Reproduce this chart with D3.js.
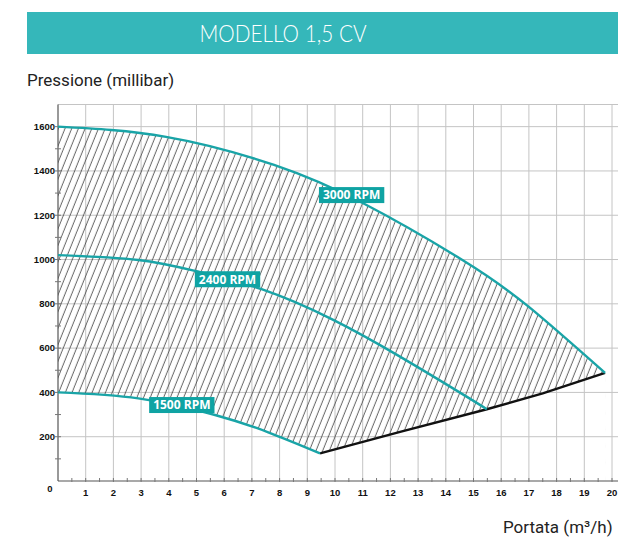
<!DOCTYPE html>
<html>
<head>
<meta charset="utf-8">
<script src="https://cdn.jsdelivr.net/npm/d3@7"></script>
<style>
  html, body { margin: 0; padding: 0; background: #fff; }
  svg { display: block; }
</style>
</head>
<body>
<svg id="chart" width="618" height="538"></svg>
<script>
// ---- data ----
const title = "MODELLO 1,5 CV";
const yTitle = "Pressione (millibar)";
const xTitle = "Portata (m³/h)";

const xTickValues = [1,2,3,4,5,6,7,8,9,10,11,12,13,14,15,16,17,18,19,20];
const yTickValues = [200,400,600,800,1000,1200,1400,1600];

const rpm3000X = [0, 3.9, 7.8, 11.0, 14.6, 17.0, 19.75];
const rpm3000Y = [1600, 1554, 1427, 1255, 998, 786, 488];

const rpm2400X = [0, 2.9, 5.0, 7.35, 9.9, 12.3, 14.75, 15.48];
const rpm2400Y = [1020, 998, 947, 866, 730, 565, 381, 324];

const rpm1500X = [0, 2.9, 5.67, 7.59, 9.46];
const rpm1500Y = [400, 373, 298, 220, 125];

const limitX = [9.46, 12.35, 15.48, 17.5, 19.75];
const limitY = [125, 222, 324, 396, 488];

const curveLabels = ["3000 RPM", "2400 RPM", "1500 RPM"];
const labelX = [10.6, 6.12, 4.47];
const labelY = [1291, 911, 343];

// ---- layout ----
const svg = d3.select("#chart");
const x = d3.scaleLinear().domain([0, 20]).range([58, 612]);
const y = d3.scaleLinear().domain([0, 1700]).range([481, 104.5]);

const teal = "#19a4a7";
const labelTeal = "#0fa3a3";

const zip = (xs, ys) => xs.map((v, i) => [v, ys[i]]);
const s3000 = zip(rpm3000X, rpm3000Y);
const s2400 = zip(rpm2400X, rpm2400Y);
const s1500 = zip(rpm1500X, rpm1500Y);
const sLimit = zip(limitX, limitY);

// title bar
svg.append("rect").attr("x", 27).attr("y", 12).attr("width", 640).attr("height", 42).attr("fill", "#35b7ba");
svg.append("text").attr("x", 283).attr("y", 41.5).attr("text-anchor", "middle")
  .attr("font-family", "Lato, 'Open Sans', sans-serif").attr("font-weight", 300)
  .attr("font-size", 23).attr("fill", "#fff")
  .attr("textLength", 167).attr("lengthAdjust", "spacingAndGlyphs")
  .text(title);

// axis titles
svg.append("text").attr("x", 27).attr("y", 86).attr("font-family", "Roboto, sans-serif")
  .attr("font-size", 17).attr("fill", "#222").text(yTitle);
svg.append("text").attr("x", 503).attr("y", 533).attr("font-family", "Roboto, sans-serif")
  .attr("font-size", 17).attr("fill", "#222").text(xTitle);

// defs: hatch + mask
const defs = svg.append("defs");
const pat = defs.append("pattern").attr("id", "hatch").attr("patternUnits", "userSpaceOnUse")
  .attr("width", 6.2).attr("height", 10).attr("patternTransform", "rotate(22)");
pat.append("line").attr("x1", 3).attr("y1", -1).attr("x2", 3).attr("y2", 11)
  .attr("stroke", "#3a3a3a").attr("stroke-width", 0.8);

const curve = d3.curveNatural;
const areaUnder = (c) => d3.area().x(d => x(d[0])).y0(y(0)).y1(d => y(d[1])).curve(c);
const mask = defs.append("mask").attr("id", "hatchMask").attr("maskUnits", "userSpaceOnUse")
  .attr("x", 0).attr("y", 0).attr("width", 618).attr("height", 538);
mask.append("path").attr("d", areaUnder(curve)(s3000)).attr("fill", "#fff");
mask.append("path").attr("d", areaUnder(curve)(s1500)).attr("fill", "#000");
mask.append("path").attr("d", areaUnder(d3.curveLinear)([[limitX[0]-0.05, limitY[0]], ...sLimit]))
  .attr("fill", "#000").attr("stroke", "#000").attr("stroke-width", 1);

// grid
const grid = svg.append("g").attr("stroke", "#c4c4c4").attr("stroke-width", 1);
grid.selectAll("line.v").data(xTickValues).join("line")
  .attr("x1", d => x(d)).attr("x2", d => x(d)).attr("y1", y(1700)).attr("y2", y(0));
grid.selectAll("line.h").data([...yTickValues, 1700]).join("line")
  .attr("x1", x(0)).attr("x2", x(21)).attr("y1", d => y(d)).attr("y2", d => y(d));

// hatch
svg.append("rect").attr("x", x(0)).attr("y", y(1700)).attr("width", x(20) - x(0)).attr("height", y(0) - y(1700))
  .attr("fill", "url(#hatch)").attr("mask", "url(#hatchMask)");

// axes
const axisColor = "#555";
svg.append("line").attr("x1", x(0)).attr("x2", x(0)).attr("y1", y(1700)).attr("y2", y(0))
  .attr("stroke", axisColor).attr("stroke-width", 1.2);
svg.append("line").attr("x1", x(0)).attr("x2", x(21)).attr("y1", y(0)).attr("y2", y(0))
  .attr("stroke", axisColor).attr("stroke-width", 1.2);

// minor ticks
const yMinor = d3.range(100, 1700, 100);
svg.append("g").selectAll("line").data(yMinor).join("line")
  .attr("x1", x(0) - 3).attr("x2", x(0) + 3).attr("y1", d => y(d)).attr("y2", d => y(d))
  .attr("stroke", "#777").attr("stroke-width", 1);
const xMinor = d3.range(0.5, 20.5, 0.5);
svg.append("g").selectAll("line").data(xMinor).join("line")
  .attr("x1", d => x(d)).attr("x2", d => x(d)).attr("y1", y(0) - 3).attr("y2", y(0) + 1)
  .attr("stroke", "#777").attr("stroke-width", 1);

// tick labels
const tickFont = "'Liberation Sans', Arial, sans-serif";
svg.append("g").selectAll("text").data(yTickValues).join("text")
  .attr("x", 55).attr("y", d => y(d)).attr("dy", "0.35em").attr("text-anchor", "end")
  .attr("font-family", tickFont).attr("font-weight", "bold").attr("font-size", 9.5).attr("fill", "#111")
  .text(d => d);
svg.append("g").selectAll("text").data(xTickValues).join("text")
  .attr("x", d => x(d)).attr("y", 496).attr("text-anchor", "middle")
  .attr("font-family", tickFont).attr("font-weight", "bold").attr("font-size", 9.5).attr("fill", "#111")
  .text(d => d);
svg.append("text").attr("x", x(0) - 8).attr("y", y(0) + 8).attr("dy", "0.35em").attr("text-anchor", "middle")
  .attr("font-family", tickFont).attr("font-weight", "bold").attr("font-size", 9.5).attr("fill", "#111")
  .text("0");

// curves
const smooth = d3.line().x(d => x(d[0])).y(d => y(d[1])).curve(curve);
const straight = d3.line().x(d => x(d[0])).y(d => y(d[1]));
svg.append("path").attr("d", straight(sLimit)).attr("fill", "none").attr("stroke", "#111").attr("stroke-width", 2.4);
[s3000, s2400, s1500].forEach(s => {
  svg.append("path").attr("d", smooth(s)).attr("fill", "none").attr("stroke", teal)
    .attr("stroke-width", 2.4).attr("stroke-linejoin", "round");
});

// curve labels
curveLabels.forEach((t, i) => {
  const g = svg.append("g");
  const txt = g.append("text").attr("x", x(labelX[i])).attr("y", y(labelY[i])).attr("dy", "0.36em")
    .attr("text-anchor", "middle").attr("font-family", "'Open Sans', sans-serif")
    .attr("font-weight", 700).attr("font-size", 12).attr("fill", "#fff").text(t);
  const bb = txt.node().getBBox();
  g.insert("rect", "text").attr("x", bb.x - 4).attr("y", y(labelY[i]) - 8).attr("width", bb.width + 8)
    .attr("height", 16).attr("fill", labelTeal);
});
</script>
</body>
</html>
